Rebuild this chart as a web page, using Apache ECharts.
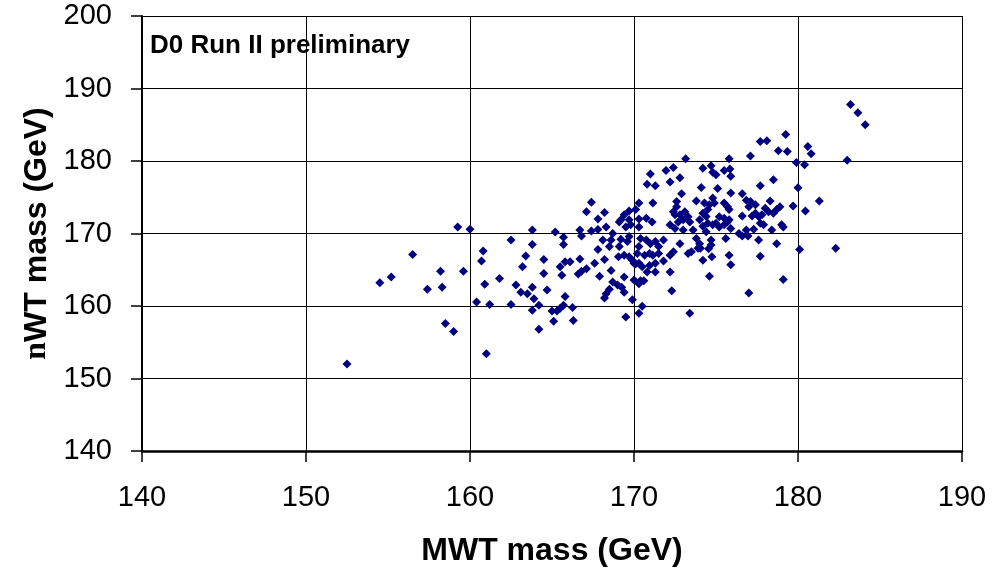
<!DOCTYPE html>
<html>
<head>
<meta charset="utf-8">
<script src="https://cdn.jsdelivr.net/npm/echarts@6/dist/echarts.min.js"></script>
<style>
html,body{margin:0;padding:0;background:#fff;}
#chart{width:995px;height:576px;}
</style>
</head>
<body>
<div id="chart"></div>
<script>
// MWT mass (x) and nWT mass (y) of each event, in GeV
var mwt = [152.5,154.5,155.2,156.5,157.4,158.2,158.3,158.5,159.0,159.25,160.0,159.6,160.4,160.7,160.8,160.9,161.0,161.2,161.8,162.5,
162.5,162.8,163.1,163.2,163.4,163.5,163.8,163.8,163.8,163.9,163.8,164.2,164.2,164.5,164.5,164.7,165.2,165.0,165.3,165.1,
165.5,165.8,165.6,165.7,165.7,165.5,165.7,165.8,166.1,166.25,166.3,166.6,166.7,166.8,166.7,166.8,167.1,167.1,167.4,167.4,
167.6,167.8,167.8,167.8,167.9,168.1,168.2,168.2,168.2,168.3,168.5,168.3,168.5,168.6,168.6,168.7,168.7,169.0,169.05,169.1,
169.1,169.2,169.2,169.4,169.4,169.25,169.4,169.5,169.5,169.6,169.7,169.7,169.7,169.7,169.8,169.4,169.9,169.9,170.1,170.1,
170.0,170.0,170.3,170.5,170.2,170.3,170.3,170.3,170.3,170.3,170.4,170.3,170.5,170.4,170.3,170.6,170.65,170.75,170.75,170.8,
170.8,170.95,170.95,171.0,171.0,171.1,171.15,171.15,171.3,171.3,171.3,171.3,171.5,171.5,171.8,171.8,171.95,172.2,172.2,172.2,
172.2,172.3,172.4,172.4,172.4,172.5,172.5,172.6,172.6,172.7,172.8,172.8,172.8,172.9,173.0,173.0,173.1,173.15,173.3,173.3,
173.4,173.4,173.5,173.6,173.8,173.8,173.9,174.0,174.0,174.1,174.2,174.2,174.3,174.4,174.2,174.4,174.2,174.05,174.5,174.5,
174.55,174.7,174.7,174.75,174.6,174.7,174.8,175.0,175.1,174.8,174.9,174.6,174.8,175.0,175.2,175.5,175.8,175.2,175.5,175.7,
175.9,175.6,175.5,175.85,175.9,175.8,175.9,175.5,175.7,175.8,175.8,175.9,176.4,176.6,176.95,176.85,176.6,176.85,176.6,177.1,
177.4,177.0,177.2,177.4,177.6,177.3,177.0,177.1,177.6,177.7,178.1,177.7,177.7,177.7,177.9,177.8,178.0,178.2,178.3,178.4,
178.5,178.9,178.7,178.5,178.7,178.8,179.0,179.1,179.1,179.25,179.35,179.7,179.9,180.0,180.1,180.4,180.45,180.6,180.8,181.3,
182.3,183.0,183.2,183.65,184.1];
var nwt = [152.0,163.2,164.0,167.1,162.3,164.8,162.6,157.6,156.5,170.9,170.6,164.8,160.55,166.2,167.6,163.0,153.4,160.2,163.8,169.1,
160.2,162.9,161.9,165.4,166.9,161.7,170.5,168.5,162.6,161.0,159.4,160.1,156.8,166.4,164.5,162.2,170.2,159.3,159.3,157.9,
165.4,166.1,164.25,169.5,168.5,159.7,160.1,161.3,166.1,159.8,158.0,164.4,170.5,169.65,166.5,164.8,165.15,173.0,174.3,170.35,
165.9,172.0,170.55,167.8,164.1,169.1,172.9,166.4,161.1,161.7,162.3,170.9,168.2,164.9,169.1,170.0,163.3,162.9,166.8,171.6,
168.2,169.2,171.9,172.6,164.0,162.6,161.9,158.5,170.9,168.9,173.1,171.9,169.6,166.8,171.2,167.0,166.3,160.85,173.3,165.8,
163.6,165.9,165.9,165.4,167.25,174.2,159.0,172.0,170.9,168.2,169.3,163.1,159.95,163.5,163.1,163.5,167.0,172.1,169.1,176.8,
164.7,167.25,165.6,178.2,168.6,171.6,174.2,167.0,168.9,165.9,176.6,164.7,167.25,168.2,169.1,166.2,178.7,171.2,167.0,164.7,
177.1,162.1,179.1,167.5,173.0,172.6,170.7,174.4,173.7,171.6,177.7,172.6,168.6,175.5,171.9,170.5,173.0,180.3,172.3,167.25,
171.6,159.0,167.5,170.5,174.5,169.3,167.95,171.9,168.6,176.35,179.0,171.0,174.2,170.25,172.8,172.35,166.3,167.95,173.3,171.4,
167.9,168.4,169.1,166.8,164.1,179.35,178.45,178.1,176.2,174.9,174.2,173.95,171.2,171.4,172.3,172.1,171.9,170.9,171.2,171.6,
170.7,169.3,178.7,178.9,177.9,180.3,175.6,174.2,173.7,173.3,167.0,165.7,170.0,169.65,169.65,170.5,175.5,174.6,172.4,174.4,
173.95,173.7,172.4,172.8,172.35,170.6,161.8,180.7,169.1,182.7,182.8,176.6,166.85,171.4,171.2,172.6,173.5,173.0,174.5,170.5,
177.4,173.7,173.3,172.8,168.6,181.4,171.2,170.9,163.65,183.65,181.3,173.8,179.8,176.3,167.8,179.5,173.1,182.0,181.0,174.5,
167.95,180.1,187.8,186.65,185.0];
var xTicks = [140,150,160,170,180,190];
var yTicks = [140,150,160,170,180,190,200];

var points = [];
for (var i = 0; i < Math.min(mwt.length, nwt.length); i++) points.push([mwt[i], nwt[i]]);

var chart = echarts.init(document.getElementById('chart'), null, {renderer:'canvas'});
var font = 'Liberation Sans, Arial, sans-serif';
chart.setOption({
  animation: false,
  backgroundColor: '#ffffff',
  grid: {left: 142, right: 33, top: 16, bottom: 125, containLabel: false},
  xAxis: {
    type: 'value', min: xTicks[0], max: xTicks[xTicks.length-1], interval: 10,
    name: 'MWT mass (GeV)', nameLocation: 'middle', nameGap: 84,
    nameTextStyle: {fontFamily: font, fontSize: 32, fontWeight: 'bold', color: '#000'},
    axisLine: {show: true, lineStyle: {color: '#000', width: 2.5}},
    axisTick: {show: true, inside: false, length: 11, lineStyle: {color: '#000', width: 1.5}},
    axisLabel: {fontFamily: font, fontSize: 29, color: '#000', margin: 32},
    splitLine: {show: true, lineStyle: {color: '#000', width: 1}}
  },
  yAxis: {
    type: 'value', min: yTicks[0], max: yTicks[yTicks.length-1], interval: 10,
    name: '{n|n}{t|WT mass (GeV)}', nameLocation: 'middle', nameGap: 86, nameRotate: 90,
    nameTextStyle: {
      rich: {
        n: {fontFamily: 'Liberation Serif, Times New Roman, serif', fontSize: 32, fontWeight: 'bold', color: '#000'},
        t: {fontFamily: font, fontSize: 32, fontWeight: 'bold', color: '#000'}
      }
    },
    axisLine: {show: true, lineStyle: {color: '#000', width: 2}},
    axisTick: {show: true, inside: false, length: 11, lineStyle: {color: '#000', width: 1.5}},
    axisLabel: {fontFamily: font, fontSize: 29, color: '#000', margin: 30},
    splitLine: {show: true, lineStyle: {color: '#000', width: 1}}
  },
  graphic: [{
    type: 'text', left: 150, top: 33,
    style: {text: 'D0 Run II preliminary', font: 'bold 26px ' + font, fill: '#000'}
  }],
  series: [{
    type: 'scatter', data: points, symbol: 'diamond', symbolSize: 9,
    itemStyle: {color: '#000080', opacity: 1}
  }]
});
</script>
</body>
</html>
